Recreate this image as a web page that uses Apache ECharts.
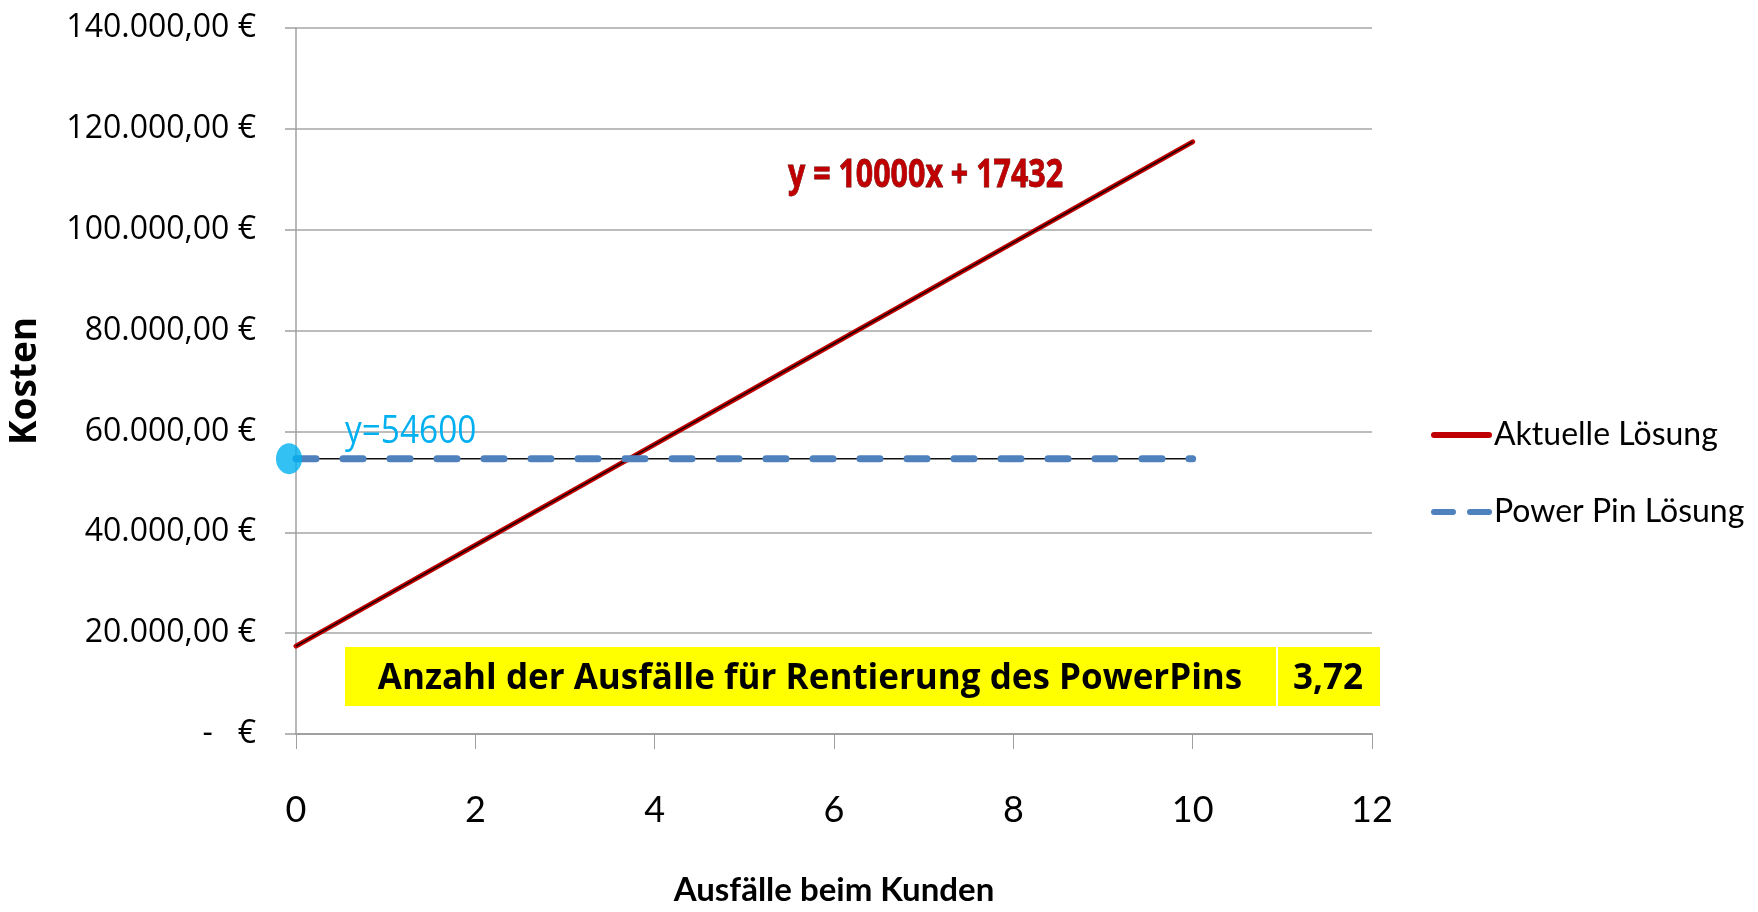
<!DOCTYPE html>
<html>
<head>
<meta charset="utf-8">
<script src="https://cdn.jsdelivr.net/npm/echarts@6/dist/echarts.min.js"></script>
<style>
html,body{margin:0;padding:0;background:#fff;}
#c{width:1758px;height:912px;}
</style>
</head>
<body>
<div id="c"></div>
<script>
// Data
const xValues = [0, 1, 2, 3, 4, 5, 6, 7, 8, 9, 10];
const aktuelleLoesung = [17432, 27432, 37432, 47432, 57432, 67432, 77432, 87432, 97432, 107432, 117432];
const powerPinLoesung = [54600, 54600, 54600, 54600, 54600, 54600, 54600, 54600, 54600, 54600, 54600];
const seriesNames = ['Aktuelle Lösung', 'Power Pin Lösung'];
const xTicks = [0, 2, 4, 6, 8, 10, 12];
const yTicks = [0, 20000, 40000, 60000, 80000, 100000, 120000, 140000];
const breakEvenPoint = [0, 54600];
const equationRed = 'y = 10000x + 17432';
const equationBlue = 'y=54600';
const boxLabel = 'Anzahl der Ausfälle für Rentierung des PowerPins';
const boxValue = '3,72';

const narrow = "Lato, 'Liberation Sans', sans-serif";
const wide = "'Open Sans', 'DejaVu Sans', sans-serif";

function fmtEuro(v) {
  if (v === 0) return '-   €';
  const s = Math.round(v).toString().replace(/\B(?=(\d{3})+(?!\d))/g, '.');
  return s + ',00 €';
}

const chart = echarts.init(document.getElementById('c'));
const pair = (ys) => xValues.map((x, i) => [x, ys[i]]);

chart.setOption({
  animation: false,
  backgroundColor: '#ffffff',
  grid: { left: 296, right: 386, top: 28, bottom: 178, outerBoundsMode: 'none', containLabel: false },
  xAxis: {
    type: 'value', min: xTicks[0], max: xTicks[xTicks.length - 1], interval: 2,
    name: 'Ausfälle beim Kunden', nameLocation: 'middle', nameGap: 140,
    nameTextStyle: { fontFamily: narrow, fontSize: 33, fontWeight: 'bold', color: '#000' },
    axisLine: { show: true, lineStyle: { color: '#a0a0a0', width: 2 } },
    axisTick: { show: true, length: 15, lineStyle: { color: '#a0a0a0', width: 1 } },
    axisLabel: { margin: 58, fontFamily: narrow, fontSize: 36, color: '#000' },
    splitLine: { show: false }
  },
  yAxis: {
    type: 'value', min: yTicks[0], max: yTicks[yTicks.length - 1], interval: 20000,
    name: 'Kosten', nameLocation: 'middle', nameGap: 252, nameRotate: 90,
    nameTextStyle: { fontFamily: wide, fontSize: 37, fontWeight: 'bold', color: '#000' },
    axisLine: { show: true, lineStyle: { color: '#a0a0a0', width: 1.5 } },
    axisTick: { show: true, length: 11, lineStyle: { color: '#a0a0a0', width: 1.5 } },
    axisLabel: { margin: 40, fontFamily: wide, fontSize: 32, color: '#000', formatter: fmtEuro },
    splitLine: { show: true, lineStyle: { color: '#a6a6a6', width: 1.5 } }
  },
  legend: {
    orient: 'vertical', left: 1426, top: 410,
    data: [
      { name: seriesNames[0], icon: 'path://M3,0H58A3,3 0 0 1 58,6H3A3,3 0 0 1 3,0Z' },
      { name: seriesNames[1], icon: 'path://M3,0H22A3,3 0 0 1 22,6H3A3,3 0 0 1 3,0Z M39,0H58A3,3 0 0 1 58,6H39A3,3 0 0 1 39,0Z' }
    ],
    itemWidth: 61, itemHeight: 6, itemGap: 37,
    textStyle: { fontFamily: narrow, fontSize: 32, color: '#000', lineHeight: 40, padding: [0, 0, 0, -3] }
  },
  series: [
    {
      name: seriesNames[0], type: 'line', data: pair(aktuelleLoesung), symbol: 'none',
      lineStyle: { color: '#c00000', width: 5, cap: 'round' }, itemStyle: { color: '#c00000' }, z: 3
    },
    {
      type: 'line', data: pair(aktuelleLoesung), symbol: 'none', silent: true,
      lineStyle: { color: '#1a0000', width: 1.5 }, z: 4
    },
    {
      type: 'line', data: pair(powerPinLoesung), symbol: 'none', silent: true,
      lineStyle: { color: '#111111', width: 1.5 }, z: 3
    },
    {
      name: seriesNames[1], type: 'line', data: pair(powerPinLoesung), symbol: 'none',
      lineStyle: { color: '#4f81bd', width: 7, type: [20, 27], cap: 'round' }, itemStyle: { color: '#4f81bd' }, z: 4
    },
    {
      type: 'scatter', data: [breakEvenPoint], symbol: 'circle', symbolSize: [26, 31], symbolOffset: [-7, 0],
      itemStyle: { color: '#00b0f0' }, clip: false, silent: true, z: 6
    }
  ],
  graphic: [
    { type: 'text', x: 788, y: 176, scaleX: 0.76, z: 10,
      style: { text: equationRed, font: "bold 40px " + wide, fill: '#c00000', stroke: '#5a0000', lineWidth: 0.8, verticalAlign: 'middle' } },
    { type: 'text', x: 345, y: 432, scaleX: 0.88, z: 10,
      style: { text: equationBlue, font: "38px " + wide, fill: '#00b0f0', verticalAlign: 'middle' } },
    { type: 'rect', shape: { x: 345, y: 647, width: 931, height: 59 }, style: { fill: '#ffff00' }, z: 9 },
    { type: 'rect', shape: { x: 1278, y: 647, width: 102, height: 59 }, style: { fill: '#ffff00' }, z: 9 },
    { type: 'text', x: 810, y: 679, z: 10,
      style: { text: boxLabel, font: "bold 35px " + wide, fill: '#000', align: 'center', verticalAlign: 'middle' } },
    { type: 'text', x: 1328, y: 679, z: 10,
      style: { text: boxValue, font: "bold 35px " + wide, fill: '#000', align: 'center', verticalAlign: 'middle' } }
  ]
});
</script>
</body>
</html>
